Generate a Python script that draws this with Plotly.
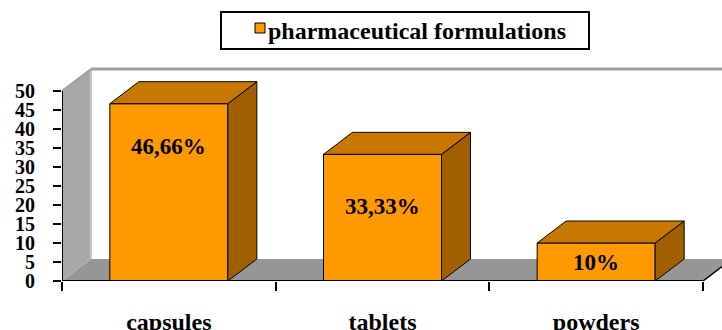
import plotly.graph_objects as go

# ---------------- data ----------------
categories = ["capsules", "tablets", "powders"]
values = [46.66, 33.33, 10]
value_labels = ["46,66%", "33,33%", "10%"]
label_frac = [0.76, 0.585, 0.5]          # where the value label sits inside each bar
y_ticks = list(range(0, 55, 5))
series_name = "pharmaceutical formulations"

# ---------------- style / geometry ----------------
FONT = "Liberation Serif"
FRONT, TOP, SIDE = "#FF9900", "#C87800", "#A06000"
FLOOR, WALL, EDGE = "#969696", "#A8A8A8", "#A0A0A0"
W, H = 722, 330
L, R, T, B = 62, 0, 55, 49
X_PX = 641 / 3            # pixels per category
Y_PX = 3.8                # pixels per unit
n = len(categories)
xs = list(range(n))
x0 = -0.5
x1 = x0 + (W - L - R) / X_PX
y1 = (H - T - B) / Y_PX
DX, DY = 29 / X_PX, 22 / Y_PX   # 3-D depth offset
BW = 118 / X_PX
ymax = max(y_ticks)

def px(xp):
    return (xp - L) / (W - L - R)

def py(yp):
    return (H - B - yp) / (H - T - B)

def poly(pts):
    return "M " + " L ".join(f"{a},{b}" for a, b in pts) + " Z"

fig = go.Figure()

# front faces of the bars
fig.add_trace(go.Bar(
    x=xs, y=values, width=BW, name=series_name,
    marker=dict(color=FRONT, line=dict(color="black", width=1)),
    showlegend=False, hoverinfo="skip",
))

# top and side faces computed from values
for xi, v in zip(xs, values):
    xl, xr = xi - BW / 2, xi + BW / 2
    top = [(xl, v), (xr, v), (xr + DX, v + DY), (xl + DX, v + DY), (xl, v)]
    side = [(xr, 0), (xr, v), (xr + DX, v + DY), (xr + DX, DY), (xr, 0)]
    for pts, col in ((side, SIDE), (top, TOP)):
        fig.add_trace(go.Scatter(
            x=[p[0] for p in pts], y=[p[1] for p in pts], mode="lines",
            fill="toself", fillcolor=col, line=dict(color="black", width=1),
            showlegend=False, hoverinfo="skip",
        ))

shapes = [
    # back wall
    dict(type="rect", xref="x", yref="y", x0=x0 + DX, x1=x1, y0=DY, y1=ymax + DY,
         fillcolor="white", line=dict(width=0), layer="below"),
    # floor
    dict(type="path", xref="x", yref="y",
         path=poly([(x0, 0), (x0 + n, 0), (x0 + n + DX, DY), (x0 + DX, DY)]),
         fillcolor=FLOOR, line=dict(width=0), layer="below"),
    # left wall
    dict(type="path", xref="x", yref="y",
         path=poly([(x0, 0), (x0, ymax), (x0 + DX, ymax + DY), (x0 + DX, DY)]),
         fillcolor=WALL, line=dict(width=0), layer="below"),
    dict(type="line", xref="x", yref="y", x0=x0 + DX, x1=x0 + DX, y0=DY, y1=ymax + DY,
         line=dict(color="#C8C8C8", width=2), layer="below"),
    # wall top edges
    dict(type="line", xref="x", yref="y", x0=x0 + DX, x1=x1, y0=ymax + DY, y1=ymax + DY,
         line=dict(color=EDGE, width=3), layer="below"),
    dict(type="line", xref="x", yref="y", x0=x0, x1=x0 + DX, y0=ymax, y1=ymax + DY,
         line=dict(color=EDGE, width=2), layer="below"),
    # axis lines
    dict(type="line", xref="x", yref="y", x0=x0, x1=x0, y0=0, y1=ymax,
         line=dict(color="black", width=2)),
    dict(type="line", xref="x", yref="y", x0=x0, x1=x0 + n, y0=0, y1=0,
         line=dict(color="black", width=2)),
    dict(type="line", xref="x", yref="y", x0=x0 + n, x1=x0 + n + DX, y0=0, y1=DY,
         line=dict(color="black", width=1.5)),
    # legend box
    dict(type="rect", xref="paper", yref="paper", x0=px(221), x1=px(589), y0=py(49), y1=py(12),
         fillcolor="white", line=dict(color="black", width=2)),
    dict(type="rect", xref="paper", yref="paper", x0=px(255), x1=px(265), y0=py(33), y1=py(23),
         fillcolor=FRONT, line=dict(color="black", width=1)),
]

annotations = [
    dict(x=px(266), y=py(31), xref="paper", yref="paper", text=series_name,
         showarrow=False, xanchor="left", yanchor="middle",
         font=dict(family=FONT, size=24, color="black", weight="bold")),
]
for xi, v, lab, f in zip(xs, values, value_labels, label_frac):
    annotations.append(dict(x=xi, y=v * f, xref="x", yref="y", text=lab, showarrow=False,
                            xanchor="center", yanchor="middle",
                            font=dict(family=FONT, size=23, color="black", weight="bold")))

fig.update_layout(
    width=W, height=H, margin=dict(l=L, r=R, t=T, b=B, autoexpand=False),
    paper_bgcolor="white", plot_bgcolor="white",
    shapes=shapes, annotations=annotations, showlegend=False,
    xaxis=dict(range=[x0, x1], showgrid=False, zeroline=False, showline=False,
               automargin=False,
               tickmode="array", tickvals=xs, ticktext=categories, ticks="",
               tickfont=dict(family=FONT, size=24, color="black", weight="bold"),
               ticklabelstandoff=24,
               minor=dict(tickmode="array", tickvals=[x0 + i for i in range(n + 1)],
                          ticks="outside", ticklen=9, tickwidth=2, tickcolor="black",
                          showgrid=False)),
    yaxis=dict(range=[0, y1], showgrid=False, zeroline=False, showline=False,
               automargin=False,
               tickmode="array", tickvals=y_ticks, ticks="outside", ticklen=8,
               tickwidth=2, tickcolor="black",
               tickfont=dict(family=FONT, size=20, color="black", weight="bold"),
               ticklabelstandoff=14),
)

fig.write_html("out.html")
